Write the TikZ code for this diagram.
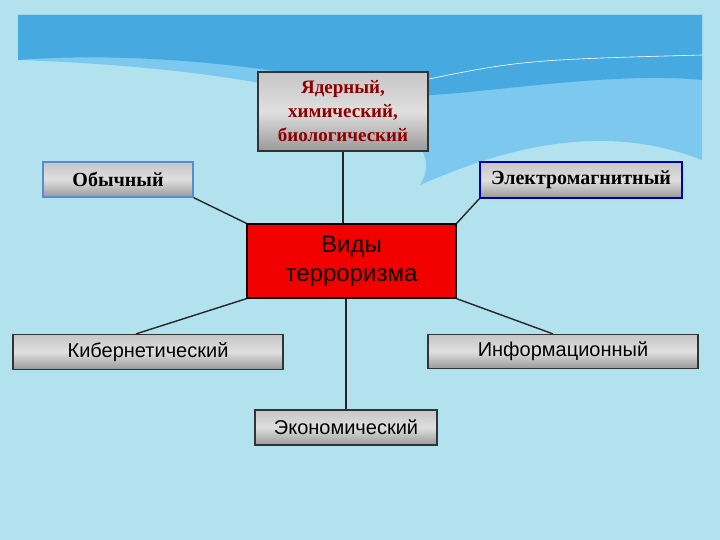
\documentclass[tikz,border=0pt]{standalone}
\usepackage{fontspec}
\setmainfont{Liberation Serif}
\newfontfamily\sansf{Liberation Sans}
\definecolor{bgc}{RGB}{178,226,238}
\definecolor{skyA}{RGB}{70,170,225}
\definecolor{skyB}{RGB}{125,200,238}
\begin{document}
\begin{tikzpicture}[x=1pt,y=-1pt,
  box/.style={draw=black!80, line width=1.2pt, top color=gray!45, bottom color=gray!80, middle color=gray!25, inner sep=0pt, anchor=center},
  conn/.style={draw=black!85, line width=1.4pt}]
\useasboundingbox (0,0) rectangle (720,540);
\fill[bgc] (0,0) rectangle (720,540);
\fill[skyB] (18,15) -- (702,15) -- (702,160) .. controls (600,120) and (500,150) .. (420,185) .. controls (460,120) and (300,70) .. (18,60) -- cycle;
\fill[skyA] (18,15) -- (702,15) -- (702,80) .. controls (600,70) and (450,100) .. (400,95) .. controls (300,70) and (150,50) .. (18,60) -- cycle;
\draw[white, line width=0.6pt] (400,85) .. controls (520,60) .. (702,55);
\node[box, minimum width=170pt, minimum height=79pt, align=center, text=red!55!black, font=\bfseries\fontsize{19}{24}\selectfont] (nuc) at (343,111.5) {Ядерный,\\химический,\\биологический};
\node[box, draw=cyan!50!blue!70, minimum width=150pt, minimum height=35pt, font=\bfseries\fontsize{20}{22}\selectfont] (oby) at (118,179.5) {Обычный};
\node[box, draw=blue!70!black, minimum width=202pt, minimum height=36pt, font=\bfseries\fontsize{20}{22}\selectfont] (ele) at (581,180) {Электромагнитный};
\node[draw=black, line width=1.4pt, fill=red!95!black, minimum width=209pt, minimum height=74pt, align=center, font=\sansf\fontsize{24}{29}\selectfont, text=black] (vid) at (351.5,261) {Виды\\терроризма};
\node[box, minimum width=270pt, minimum height=35pt, font=\sansf\fontsize{20}{22}\selectfont] (kib) at (148,352) {Кибернетический};
\node[box, minimum width=270pt, minimum height=34pt, font=\sansf\fontsize{20}{22}\selectfont] (inf) at (563,351.5) {Информационный};
\node[box, minimum width=182pt, minimum height=35pt, font=\sansf\fontsize{20}{22}\selectfont] (eko) at (346,427.5) {Экономический};
\draw[conn] (nuc.south) -- (nuc.south |- vid.north);
\draw[conn] (oby.south east) -- (vid.north west);
\draw[conn] (ele.south west) -- (vid.north east);
\draw[conn] (vid.south west) -- ([xshift=-12pt]kib.north);
\draw[conn] (vid.south east) -- ([xshift=-10pt]inf.north);
\draw[conn] (vid.south -| eko.north) -- (eko.north);
\end{tikzpicture}
\end{document}
